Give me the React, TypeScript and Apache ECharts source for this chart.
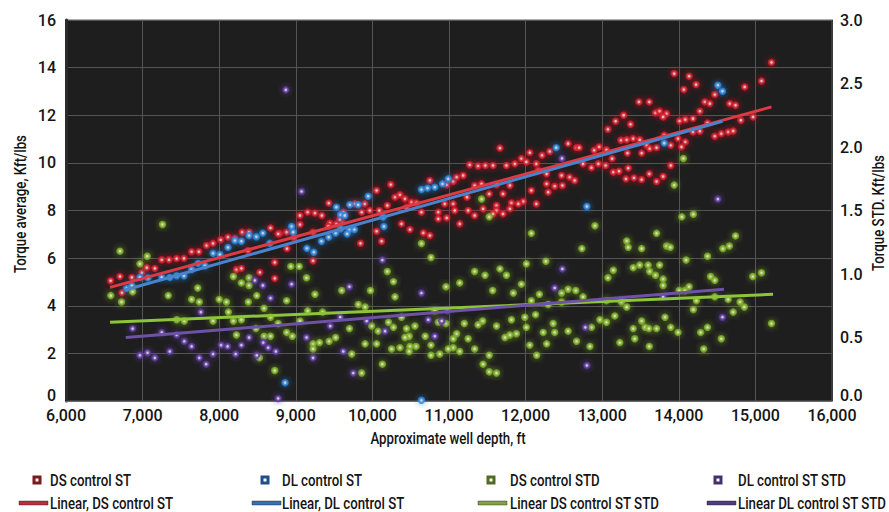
import React, { useEffect, useRef } from "react";
import * as echarts from "echarts";

// ---- axes ----
const xMin = 6000, xMax = 16000, xStep = 1000;
const yLeftMin = 0, yLeftMax = 16, yLeftStep = 2;
const yRightMin = 0, yRightMax = 3, yRightStep = 0.5;
const xName = "Approximate well depth, ft";
const yLeftName = "Torque average, Kft/lbs";
const yRightName = "Torque STD. Kft/lbs";

// ---- series (depth ft, value) ----
const dsControlST: number[][] = [
  [6583,5.05],[6705,5.23],[6730,4.55],[6860,5.19],[6990,5.39],[7055,5.6],[7160,5.57],[7250,5.93],[7345,5.93],[7445,5.98],
  [7540,5.99],[7640,6.27],[7735,6.27],[7835,6.53],[7920,6.62],[8020,6.77],[8115,6.88],[8205,6.83],[8300,7.09],[8390,7.09],
  [8375,6.32],[8225,5.52],[8290,5.57],[8530,5.4],[8725,5.82],[8725,5.15],[8790,7.03],[8880,7.09],[8885,6.4],[8975,6.86],
  [9055,7.79],[9155,7.93],[9250,7.89],[9340,7.79],[9430,8.31],[9445,7.47],[9055,7.41],[9225,7.09],[9225,5.89],[9600,7.51],
  [8670,7.27],[8770,7.02],[9425,7.33],[9530,7.44],
  [10055,8.84],[10240,9.09],[10295,8.56],[10360,8.66],[10425,8.49],[10510,8.35],[10575,8.32],[10445,8.14],[10195,8.21],[10090,8.0],
  [9965,8.0],[9860,7.93],[9770,8.28],[9900,8.28],[9620,7.93],[9575,7.62],[10055,7.13],[10120,6.71],[10380,7.44],[10490,7.2],
  [10665,7.06],[10750,6.95],[9845,6.62],[10640,7.93],[10750,9.26],[10860,7.93],[10970,9.08],[10945,8.28],[11055,9.22],[11100,9.4],
  [11185,9.47],[11055,8.28],[11075,8.0],[10970,7.69],[11140,7.44],[11235,8.56],[11250,8.0],[11270,9.92],[11380,9.87],[11475,9.89],
  [11575,9.89],[11665,10.62],[11335,9.05],[11425,9.12],[11525,8.7],[11620,9.08],[11705,8.7],[11795,9.05],[11750,9.89],[11860,9.96],
  [11945,10.18],[12055,10.43],[12010,10.04],[12140,9.96],[12215,10.32],[12315,10.48],[12555,10.81],[12665,10.64],[12165,9.68],[12275,9.54],
  [12470,9.47],[12575,9.4],[12640,9.26],[12275,9.12],[12380,9.02],[12480,9.05],[12075,8.84],[12295,8.77],[11970,8.38],[12140,8.28],
  [11815,8.32],[11795,8.07],[11905,8.28],[11620,8.21],[11620,8.0],[11445,8.07],[11575,7.86],[11705,7.86],[11335,7.79],[10860,7.65],
  [15210,14.22],[15080,13.44],[14860,13.19],[13940,13.75],[14135,13.64],[14225,13.29],[14065,13.08],[14470,12.87],[14340,12.56],[14405,12.49],
  [14275,12.17],[14665,12.49],[14740,12.42],[13480,12.56],[13615,12.56],[13695,12.1],[13750,12.17],[13840,12.07],[13795,11.93],[13280,12.0],
  [13175,11.75],[13370,11.62],[13075,11.41],[14010,11.76],[14085,11.82],[14185,11.86],[14375,11.68],[14810,11.79],[14970,11.93],[14185,11.3],
  [14275,11.33],[14470,11.12],[14555,11.23],[14645,11.3],[14710,11.34],[13810,11.16],[13990,11.02],[14085,10.88],[13895,10.74],[14035,10.67],
  [13580,10.74],[13620,10.6],[13710,10.64],[13515,10.41],[13330,10.41],[13895,9.89],[13245,10.95],[13320,10.97],[13405,11.02],[13490,10.97],
  [13055,10.55],[12960,10.67],[12895,10.53],[12700,10.64],[12750,9.96],[12860,9.8],[12950,9.96],[13045,9.89],[13130,10.18],[13145,9.61],
  [13220,9.65],[13340,9.78],[13310,9.33],[13415,9.37],[13515,9.3],[13615,9.54],[13710,9.22],[13795,9.43]
];

const dlControlST: number[][] = [
  [6790,4.73],[6860,4.84],[6965,5.19],[7070,5.17],[7250,5.19],[7355,5.19],[7445,5.26],[7540,5.26],[7640,5.52],[7725,5.78],
  [7815,5.68],[7920,6.2],[8010,6.15],[8115,6.45],[8205,6.74],[8290,6.71],[8390,6.95],[8485,6.9],[8570,7.05],[8660,6.62],
  [8945,7.33],[8965,7.09],[9145,6.41],[9235,6.25],[9335,6.71],[9430,6.88],[9520,7.05],[9530,8.14],[9585,7.82],[9585,7.23],
  [9705,8.24],[9815,8.24],[9945,8.6],[9640,7.79],[9700,7.2],[9765,7.2],[9670,7.02],[10140,7.72],[10150,7.33],[10640,8.88],
  [10720,8.94],[10815,8.98],[10915,9.12],[10990,9.33],[12400,10.64],[12800,8.17],[14510,13.26],[14570,13.01],[13810,10.83],[8860,0.77],
  [10640,0.03]
];

const dsControlSTD: number[][] = [
  [6705,1.18],[7260,1.39],[7060,1.14],[6965,1.08],[6585,0.83],[6725,0.78],[6870,0.86],[7335,0.83],[7720,0.89],[7640,0.80],
  [7740,0.78],[8000,0.80],[8095,0.78],[8185,0.98],[8290,0.93],[8390,0.97],[8390,0.91],[8490,0.83],[8380,0.78],[8585,0.73],
  [8120,0.70],[7445,0.64],[7545,0.63],[7920,0.63],[8185,0.63],[8290,0.64],[8225,0.52],[8670,0.66],[8770,0.61],[8480,0.57],
  [8585,0.51],[8670,0.51],[8880,0.79],[8935,1.06],[9045,1.06],[9140,0.97],[9250,0.84],[9155,0.71],[8880,0.54],[9055,0.63],
  [8955,0.51],[9225,0.45],[9225,0.41],[9310,0.46],[9435,0.47],[9520,0.50],[9350,0.70],[9600,0.87],[9815,0.76],[9700,0.57],
  [9730,0.37],[8525,0.34],[8725,0.24],
  [12905,1.38],[12075,1.32],[12735,1.20],[10640,1.24],[10765,1.13],[13710,1.32],[13320,1.26],[13340,1.21],[13515,1.20],[12010,1.08],
  [12265,1.10],[11335,1.02],[11470,0.99],[11665,1.04],[11750,0.99],[10195,1.02],[10275,0.94],[10295,0.82],[9975,0.87],[10960,0.90],
  [11140,0.93],[11570,0.87],[11945,0.92],[11840,0.85],[12180,0.84],[12075,0.79],[12295,0.76],[12470,0.85],[12555,0.88],[12655,0.87],
  [12750,0.82],[12470,0.78],[13075,0.97],[13145,1.03],[13405,1.05],[13490,1.07],[13600,1.07],[13620,1.02],[13695,0.99],[13055,0.79],
  [13250,0.78],[13320,0.74],[13165,0.67],[12970,0.64],[13055,0.62],[12860,0.58],[13515,0.63],[13560,0.58],[13710,0.57],[13405,0.57],
  [13425,0.49],[13615,0.43],[13230,0.46],[12840,0.43],[12665,0.47],[12555,0.55],[12360,0.61],[12380,0.54],[12230,0.54],[12275,0.45],
  [12145,0.36],[12055,0.44],[12010,0.58],[12130,0.68],[11990,0.66],[11815,0.64],[11880,0.53],[11795,0.52],[11730,0.50],[11620,0.59],
  [11440,0.63],[11380,0.60],[11200,0.61],[11250,0.49],[11335,0.41],[11525,0.36],[11445,0.29],[11525,0.23],[11620,0.22],[10960,0.61],
  [11100,0.53],[11055,0.49],[11055,0.42],[10990,0.41],[11140,0.39],[10880,0.37],[10765,0.36],[10765,0.44],[10690,0.51],[10570,0.43],
  [10490,0.43],[10360,0.42],[10250,0.41],[10480,0.39],[10480,0.51],[10445,0.57],[10555,0.59],[10425,0.50],[10275,0.58],[10210,0.62],
  [10380,0.66],[10075,0.55],[10055,0.45],[9905,0.45],[9990,0.59],[9905,0.74],[10815,0.71],[10860,0.62],[10130,0.29],[9860,0.22],
  [11425,1.59],[11525,1.45],[14060,1.91],[13940,1.70],[14040,1.45],[14190,1.47],[13840,1.22],[13890,1.21],[14740,1.30],[14375,1.14],
  [14575,1.20],[14660,1.22],[14095,1.11],[13750,1.07],[13795,0.96],[13795,0.91],[14005,0.87],[14080,0.87],[14135,0.90],[14415,0.98],
  [14470,0.95],[14965,0.98],[15080,1.01],[14230,0.79],[14470,0.82],[14645,0.80],[14800,0.78],[14855,0.74],[14710,0.70],[14190,0.72],
  [13820,0.66],[13610,0.57],[13895,0.58],[13990,0.54],[14285,0.54],[14375,0.58],[14325,0.41],[14555,0.49],[15210,0.61]
];

const dlControlSTSTD: number[][] = [
  [9075,1.65],[8465,0.95],[8570,0.91],[8670,0.81],[8945,0.92],[6870,0.57],[6965,0.36],[7065,0.38],[7160,0.34],[7250,0.54],
  [7355,0.39],[7445,0.52],[7545,0.47],[7640,0.43],[7740,0.34],[7830,0.29],[7760,0.70],[7920,0.37],[8025,0.44],[8110,0.43],
  [8215,0.37],[8290,0.44],[8390,0.50],[8490,0.36],[8575,0.46],[8640,0.42],[8740,0.39],[8770,0.02],[9140,0.50],[9225,0.34],
  [9700,0.90],[9620,0.39],[9750,0.22],[9450,0.59],[9580,0.66],[8870,2.45],[10130,1.11],[10640,0.85],[10730,0.64],[10905,0.63],
  [10815,0.51],[10165,0.55],[9925,0.63],[12480,1.04],[12780,0.58],[12800,0.28],[12380,0.89],[10980,0.71],[12475,1.91],[14510,1.59],
  [14570,0.66],[13795,0.82]
];

// linear trend lines (start, end)
const linearDS: number[][] = [[6575, 4.77], [15210, 12.35]];
const linearDL: number[][] = [[6770, 4.66], [14570, 11.75]];
const linearDSSTD: number[][] = [[6575, 0.62], [15230, 0.84]];
const linearDLSTD: number[][] = [[6780, 0.50], [14590, 0.88]];

const markerLabels = ["DS control ST", "DL control ST", "DS control STD", "DL control ST STD"];
const lineLabels = ["Linear, DS control ST", "Linear, DL control ST", "Linear DS control ST STD", "Linear DL control ST STD"];

const FONT = "Roboto, 'Liberation Sans', sans-serif";
const NARROW = 0.78;

const dotStyle = (ring: string, center: string, glow: string) => ({
  color: center,
  borderColor: ring,
  borderWidth: 2.4,
  shadowBlur: 6,
  shadowColor: glow,
});

export default function App() {
  const ref = useRef<HTMLDivElement>(null);

  useEffect(() => {
    document.body.style.margin = "0";
    if (!ref.current) return;
    const chart = echarts.init(ref.current, undefined, { renderer: "svg" });

    const ringColors = ["#d21d2a", "#2d86d8", "#7fb02c", "#5b3a98"];
    const centerColors = ["#ffe2e2", "#e6f3ff", "#f6ffcc", "#f0e6ff"];
    const glowColors = ["rgba(230,25,40,0.85)", "rgba(40,130,230,0.85)", "rgba(130,180,40,0.85)", "rgba(100,60,170,0.85)"];
    const legendSquare = ["#7a1a1c", "#1f4f88", "#4f6b22", "#45306e"];
    const legendLine = ["#b8303a", "#3a6fb2", "#7ea443", "#4d3c80"];
    const lineColors = ["#dd3a44", "#4a82cc", "#8cc43a", "#6e52a8"];

    const markerX = [37, 265, 491, 718];
    const textX = [50, 282, 510, 738];
    const lineX = [19, 252, 478, 707];
    const row1 = 480, row2 = 503;

    const txt = (text: string, x: number, y: number, size: number, align: string, rotation = 0) => ({
      type: "text",
      x,
      y,
      rotation,
      scaleX: NARROW,
      scaleY: 1,
      style: {
        text,
        fill: "#141414",
        fontSize: size,
        fontWeight: 500,
        fontFamily: FONT,
        align,
        verticalAlign: "middle",
      },
    });

    const graphics: any[] = [];
    markerLabels.forEach((t, i) => {
      graphics.push({
        type: "rect",
        shape: { x: markerX[i] - 4.5, y: row1 - 4.5, width: 9, height: 9 },
        style: { fill: legendSquare[i] },
      });
      graphics.push({
        type: "rect",
        shape: { x: markerX[i] - 1.5, y: row1 - 1.5, width: 3, height: 3 },
        style: { fill: "#ffffff" },
      });
      graphics.push(txt(t, textX[i], row1, 17, "left"));
    });
    lineLabels.forEach((t, i) => {
      graphics.push({
        type: "rect",
        shape: { x: lineX[i], y: row2 - 2, width: 29, height: 4 },
        style: { fill: legendLine[i], stroke: "rgba(40,20,30,0.5)", lineWidth: 0.8 },
      });
      graphics.push(txt(t, textX[i], row2, 17, "left"));
    });
    // axis titles
    graphics.push(txt(xName, 448, 438, 17, "center"));
    graphics.push(txt(yLeftName, 20, 204, 17, "center", Math.PI / 2));
    graphics.push(txt(yRightName, 878, 213, 17, "center", Math.PI / 2));

    const scatter = (name: string, data: number[][], i: number, yAxisIndex: number) => ({
      name,
      type: "scatter",
      data,
      yAxisIndex,
      symbol: "circle",
      symbolSize: 5,
      itemStyle: dotStyle(ringColors[i], centerColors[i], glowColors[i]),
      z: 2,
    });
    const line = (name: string, data: number[][], i: number, yAxisIndex: number) => ({
      name,
      type: "line",
      data,
      yAxisIndex,
      showSymbol: false,
      symbol: "none",
      lineStyle: { color: lineColors[i], width: 3 },
      z: 5,
    });

    const labelText = { fontSize: 16, fontWeight: 500, color: "#141414", fontFamily: FONT };
    const lifted = { ...labelText, padding: [0, 0, 11, 0] };

    chart.setOption({
      animation: false,
      textStyle: { fontFamily: FONT },
      grid: {
        left: 66,
        right: 57,
        top: 20,
        bottom: 111,
        show: true,
        backgroundColor: "#1e1e1e",
        borderColor: "#5a5a5a",
        borderWidth: 1,
      },
      xAxis: {
        type: "value",
        min: xMin,
        max: xMax,
        interval: xStep,
        axisLine: { show: true, lineStyle: { color: "#6a6a6a", width: 1 } },
        axisTick: { show: false },
        axisLabel: {
          ...labelText,
          margin: 6,
          formatter: (v: number) => v.toLocaleString("en-US"),
        },
        splitLine: { show: true, lineStyle: { color: "#545454", width: 1 } },
      },
      yAxis: [
        {
          type: "value",
          min: yLeftMin,
          max: yLeftMax,
          interval: yLeftStep,
          axisLine: { show: true, lineStyle: { color: "#2b2b2b", width: 3 } },
          axisTick: { show: false },
          axisLabel: {
            ...labelText,
            margin: 10,
            formatter: (v: number) => (v === yLeftMin ? `{z|${v}}` : String(v)),
            rich: { z: lifted },
          },
          splitLine: { show: true, lineStyle: { color: "#545454", width: 1 } },
        },
        {
          type: "value",
          min: yRightMin,
          max: yRightMax,
          interval: yRightStep,
          position: "right",
          axisLine: { show: true, lineStyle: { color: "#3a3a3a", width: 1 } },
          axisTick: { show: false },
          axisLabel: {
            ...labelText,
            margin: 8,
            formatter: (v: number) => (v === yRightMin ? `{z|${v.toFixed(1)}}` : v.toFixed(1)),
            rich: { z: lifted },
          },
          splitLine: { show: false },
        },
      ],
      graphic: graphics,
      series: [
        scatter(markerLabels[0], dsControlST, 0, 0),
        scatter(markerLabels[1], dlControlST, 1, 0),
        scatter(markerLabels[2], dsControlSTD, 2, 1),
        scatter(markerLabels[3], dlControlSTSTD, 3, 1),
        line(lineLabels[0], linearDS, 0, 0),
        line(lineLabels[1], linearDL, 1, 0),
        line(lineLabels[2], linearDSSTD, 2, 1),
        line(lineLabels[3], linearDLSTD, 3, 1),
      ],
    });

    return () => chart.dispose();
  }, []);

  return <div ref={ref} style={{ width: 889, height: 512 }} />;
}
